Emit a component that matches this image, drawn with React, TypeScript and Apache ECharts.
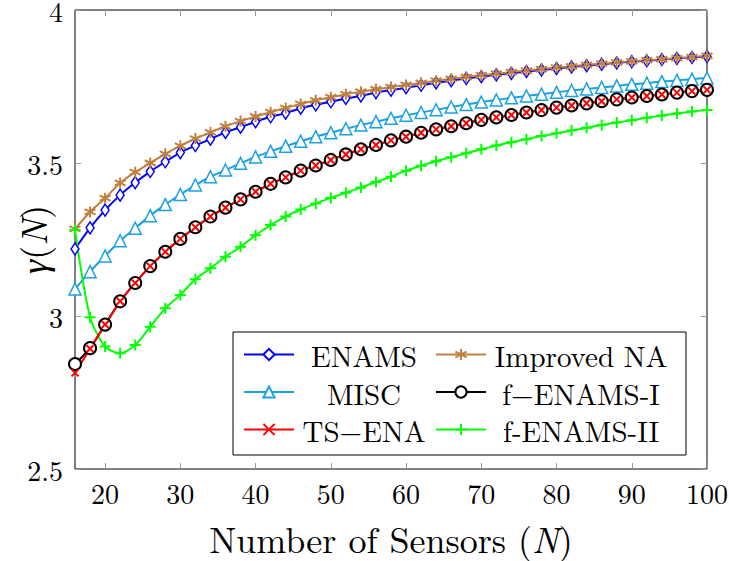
import React, { useEffect, useRef } from 'react';
import * as echarts from 'echarts';

const sensors = [16, 18, 20, 22, 24, 26, 28, 30, 32, 34, 36, 38, 40, 42, 44, 46, 48, 50, 52, 54, 56, 58, 60, 62, 64, 66, 68, 70, 72, 74, 76, 78, 80, 82, 84, 86, 88, 90, 92, 94, 96, 98, 100];

const enams = [3.219, 3.288, 3.346, 3.395, 3.436, 3.472, 3.504, 3.534, 3.557, 3.578, 3.600, 3.617, 3.635, 3.651, 3.663, 3.679, 3.690, 3.700, 3.711, 3.719, 3.730, 3.738, 3.746, 3.754, 3.762, 3.769, 3.776, 3.782, 3.788, 3.793, 3.799, 3.804, 3.809, 3.814, 3.818, 3.823, 3.827, 3.831, 3.834, 3.838, 3.842, 3.845, 3.848];

const improvedNA = [3.285, 3.340, 3.385, 3.435, 3.470, 3.500, 3.530, 3.556, 3.580, 3.600, 3.620, 3.637, 3.652, 3.666, 3.680, 3.693, 3.705, 3.715, 3.725, 3.733, 3.741, 3.748, 3.755, 3.762, 3.769, 3.775, 3.781, 3.787, 3.792, 3.797, 3.802, 3.807, 3.812, 3.816, 3.821, 3.825, 3.829, 3.832, 3.836, 3.839, 3.843, 3.846, 3.850];

const misc = [3.088, 3.145, 3.196, 3.246, 3.287, 3.328, 3.364, 3.397, 3.428, 3.455, 3.477, 3.499, 3.520, 3.538, 3.555, 3.571, 3.586, 3.599, 3.612, 3.624, 3.635, 3.646, 3.656, 3.665, 3.674, 3.683, 3.691, 3.699, 3.706, 3.713, 3.719, 3.725, 3.731, 3.737, 3.742, 3.747, 3.752, 3.757, 3.761, 3.766, 3.770, 3.774, 3.778];

const fEnamsI = [2.843, 2.895, 2.972, 3.048, 3.108, 3.163, 3.210, 3.252, 3.290, 3.325, 3.354, 3.381, 3.406, 3.432, 3.453, 3.475, 3.492, 3.510, 3.528, 3.545, 3.559, 3.574, 3.586, 3.599, 3.610, 3.620, 3.630, 3.641, 3.649, 3.657, 3.665, 3.673, 3.681, 3.688, 3.695, 3.702, 3.708, 3.714, 3.719, 3.724, 3.730, 3.735, 3.739];

const tsEna = [2.814, 2.893, 2.972, 3.048, 3.108, 3.163, 3.210, 3.252, 3.290, 3.325, 3.354, 3.381, 3.406, 3.432, 3.453, 3.475, 3.492, 3.510, 3.528, 3.545, 3.559, 3.574, 3.586, 3.599, 3.610, 3.620, 3.630, 3.641, 3.649, 3.657, 3.665, 3.673, 3.681, 3.688, 3.695, 3.702, 3.708, 3.714, 3.719, 3.724, 3.730, 3.735, 3.739];

const fEnamsII = [3.281, 2.996, 2.900, 2.878, 2.905, 2.965, 3.025, 3.069, 3.120, 3.156, 3.194, 3.226, 3.264, 3.297, 3.325, 3.348, 3.368, 3.386, 3.403, 3.420, 3.438, 3.455, 3.475, 3.491, 3.506, 3.519, 3.532, 3.545, 3.557, 3.568, 3.578, 3.588, 3.597, 3.606, 3.615, 3.624, 3.632, 3.640, 3.648, 3.655, 3.662, 3.668, 3.673];

const xTicks = [20, 30, 40, 50, 60, 70, 80, 90, 100];
const legendCol1 = ['ENAMS', 'MISC', 'TS−ENA'];
const legendCol2 = ['Improved NA', 'f−ENAMS-I', 'f-ENAMS-II'];

const FONT = 'Latin Modern Roman';

export default function App() {
  const ref = useRef<HTMLDivElement>(null);
  useEffect(() => {
    const chart = echarts.init(ref.current!, null, { renderer: 'svg' });
    const mk = (arr: number[]) => sensors.map((x, i) => [x, arr[i]]);
    const tickStyle = { inside: true, length: 6, lineStyle: { color: '#999', width: 1 } };
    const line = (name: string, arr: number[], color: string, symbol: string, size: any, fill: string, bw: number) => ({
      name,
      type: 'line',
      data: mk(arr),
      symbol,
      symbolSize: size,
      smooth: 0.25,
      lineStyle: { color, width: 2 },
      itemStyle: { color: fill, borderColor: color, borderWidth: bw },
      emphasis: { disabled: true },
    });
    const italic = { fontFamily: FONT, fontSize: 36, fontStyle: 'italic', color: '#000' };
    const roman = { fontFamily: FONT, fontSize: 36, color: '#000' };
    const legend = (data: string[], left: number, w: number) => ({
      data,
      orient: 'vertical',
      left, top: 340,
      itemWidth: 50, itemHeight: 14, itemGap: 8.5,
      padding: 0,
      formatter: (n: string) => `{t|${n}}`,
      textStyle: {
        fontFamily: FONT, fontSize: 29, color: '#000',
        rich: { t: { fontFamily: FONT, fontSize: 29, color: '#000', align: 'center', width: w } },
      },
    });
    chart.setOption({
      animation: false,
      backgroundColor: '#fff',
      textStyle: { fontFamily: FONT },
      grid: { left: 75, right: 22, top: 10, bottom: 92, show: true, borderColor: '#000', borderWidth: 1, containLabel: false, outerBoundsMode: 'none' },
      xAxis: [
        {
          type: 'value', min: 16, max: 100, position: 'bottom',
          axisLine: { show: false }, splitLine: { show: false },
          axisTick: { ...tickStyle, customValues: xTicks },
          axisLabel: { customValues: xTicks, fontFamily: FONT, fontSize: 28, color: '#000', margin: 9 },
          name: '{r|Number of Sensors (}{i|N}{r|)}',
          nameLocation: 'middle', nameGap: 50, nameMoveOverlap: false,
          nameTextStyle: { ...roman, rich: { i: italic, r: roman } },
        },
        {
          type: 'value', min: 16, max: 100, position: 'top',
          axisLine: { show: false }, splitLine: { show: false },
          axisTick: { ...tickStyle, customValues: xTicks },
          axisLabel: { show: false },
        },
      ],
      yAxis: [
        {
          type: 'value', min: 2.5, max: 4, interval: 0.5, position: 'left',
          axisLine: { show: false }, splitLine: { show: false },
          axisTick: tickStyle,
          axisLabel: { fontFamily: FONT, fontSize: 28, color: '#000', margin: 12 },
          name: '{i|γ}{r|(}{i|N}{r|)}',
          nameLocation: 'middle', nameGap: 26, nameMoveOverlap: false,
          nameTextStyle: { ...roman, rich: { i: italic, r: roman } },
        },
        {
          type: 'value', min: 2.5, max: 4, interval: 0.5, position: 'right',
          axisLine: { show: false }, splitLine: { show: false },
          axisTick: tickStyle,
          axisLabel: { show: false },
        },
      ],
      graphic: [
        { type: 'rect', z: 3, shape: { x: 233, y: 332, width: 453, height: 123 }, style: { fill: '#fff', stroke: '#000', lineWidth: 1 } },
      ],
      legend: [legend(legendCol1, 243, 130), legend(legendCol2, 435, 180)],
      series: [
        line('ENAMS', enams, '#0000ff', 'diamond', [8, 12], '#fff', 1.5),
        line('Improved NA', improvedNA, '#bf8040', 'path://M0,-10L0,10M-8.66,-5L8.66,5M-8.66,5L8.66,-5', 11, 'rgba(0,0,0,0)', 2),
        line('MISC', misc, '#1ba1e2', 'triangle', 12, '#fff', 1.5),
        line('f-ENAMS-II', fEnamsII, '#00ff00', 'path://M0,-1L0,1M-1,0L1,0', 11, 'rgba(0,0,0,0)', 2),
        line('f−ENAMS-I', fEnamsI, '#000000', 'circle', 12, '#fff', 2),
        line('TS−ENA', tsEna, '#ff0000', 'path://M-1,-1L1,1M-1,1L1,-1', 7, 'rgba(0,0,0,0)', 2),
      ],
    });
    return () => chart.dispose();
  }, []);
  return <div ref={ref} style={{ position: 'fixed', left: 0, top: 0, width: 729, height: 561, background: '#fff' }} />;
}
